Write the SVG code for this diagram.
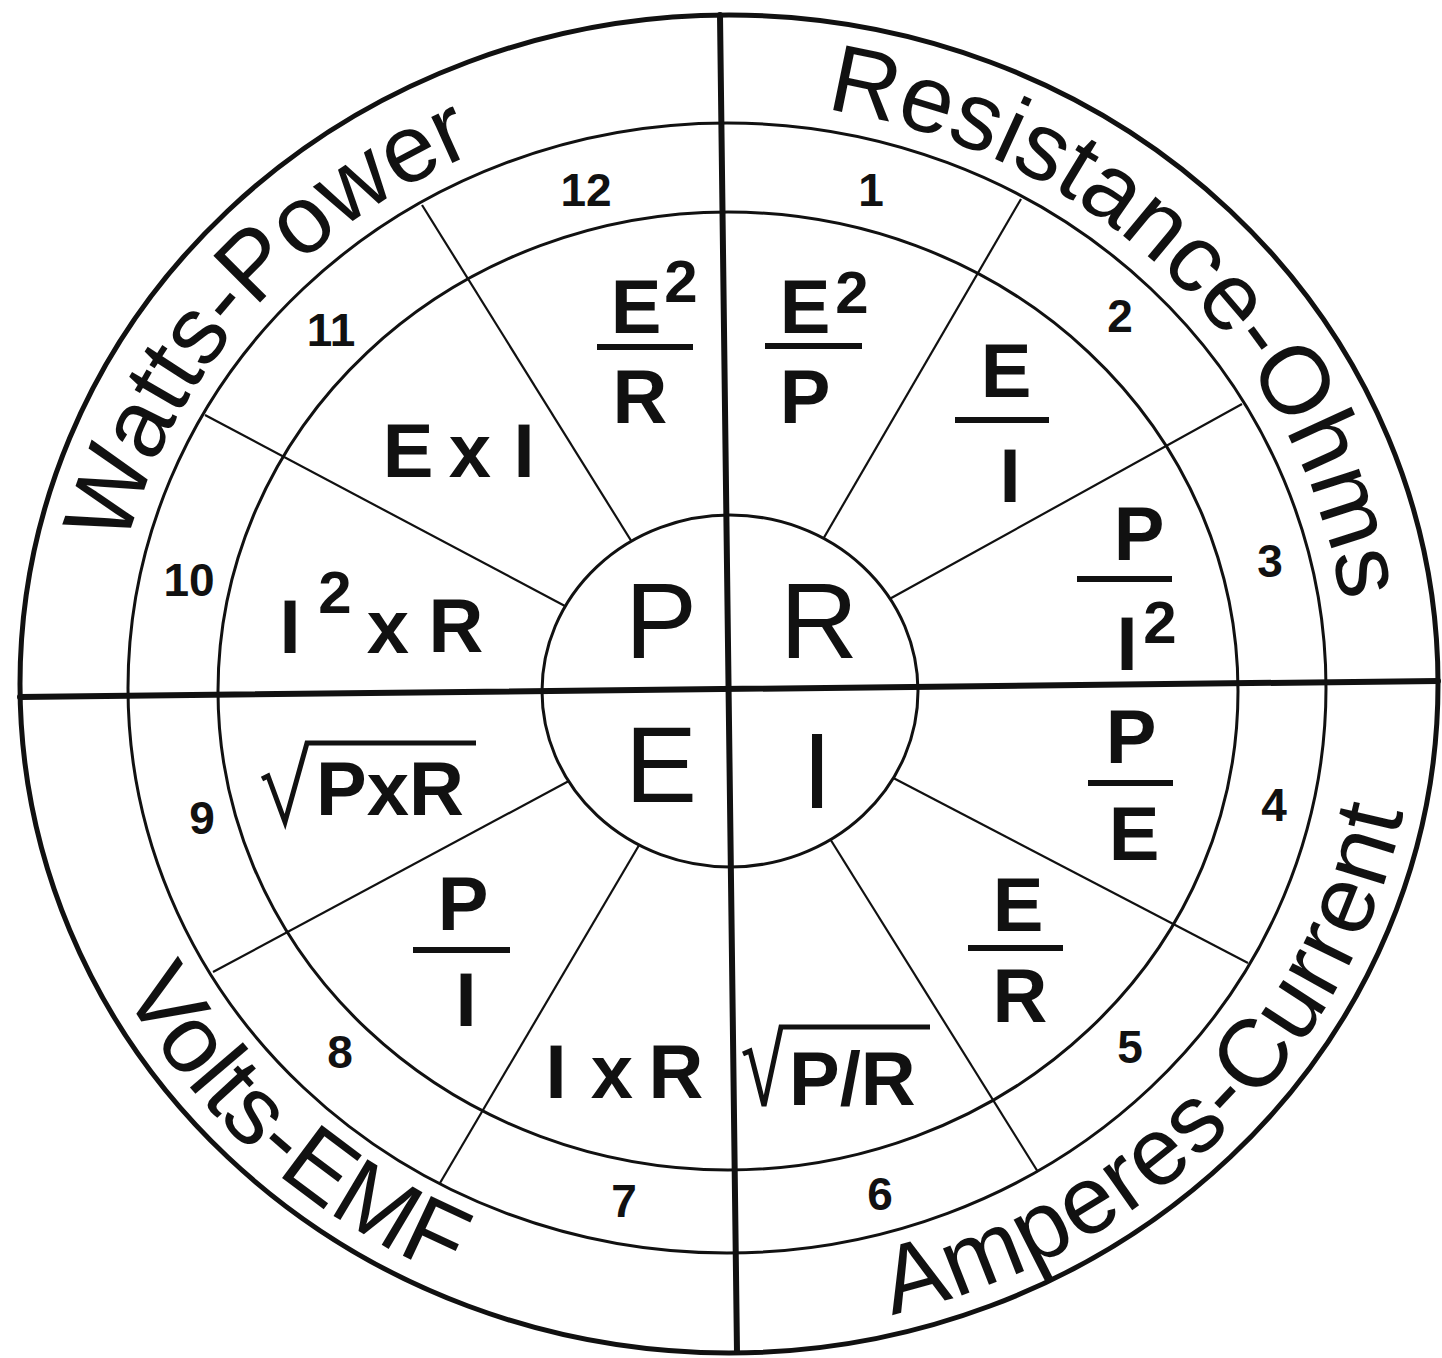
<svg xmlns="http://www.w3.org/2000/svg" width="1442" height="1358" viewBox="0 0 1442 1358">
<style>
 .ring{fill:none;stroke:#111;stroke-width:3}
 .outer{fill:none;stroke:#111;stroke-width:5}
 .hub{fill:#fff;stroke:#111;stroke-width:3}
 .axis{stroke:#111;stroke-width:6;stroke-linecap:round}
 .ray{stroke:#111;stroke-width:2.2}
 .bar{stroke:#111;stroke-width:6}
 .rad{fill:none;stroke:#111;stroke-width:5;stroke-linejoin:miter}
 text{font-family:"Liberation Sans",Arial,sans-serif;fill:#111}
 .f{font-size:76px;font-weight:bold;text-anchor:middle}
 .fs{font-size:76px;font-weight:bold}
 .sup{font-size:60px;font-weight:bold;text-anchor:middle}
 .n{font-size:46px;font-weight:bold;text-anchor:middle}
 .c{font-size:108px;text-anchor:middle}
 .lbl{font-size:96px;text-anchor:middle}
</style>
<defs>
 <path id="pRes" d="M 578.0 119.4 A 620 585 0 0 1 1324.0 848.2"/>
 <path id="pWat" d="M 149.2 896.7 A 620 585 0 0 1 825.0 109.2"/>
 <path id="pVol" d="M 61.4 527.0 A 688 649 0 0 0 918.6 1307.9"/>
 <path id="pAmp" d="M 574.2 1316.4 A 688 649 0 0 0 1386.9 494.2"/>
</defs>
<rect width="1442" height="1358" fill="#fff"/>

<g id="connectors">
 <ellipse class="outer" cx="729" cy="684" rx="709" ry="669"/>
 <ellipse class="ring" cx="727" cy="688" rx="599" ry="565"/>
 <ellipse class="ring" cx="728" cy="691" rx="510" ry="479"/>
 <line class="ray" x1="640" y1="555" x2="422" y2="205"/>
 <line class="ray" x1="580" y1="614" x2="205" y2="415"/>
 <line class="ray" x1="815" y1="553" x2="1021" y2="199"/>
 <line class="ray" x1="875" y1="607" x2="1242" y2="404"/>
 <line class="ray" x1="580" y1="775" x2="213" y2="972"/>
 <line class="ray" x1="648" y1="830" x2="440" y2="1183"/>
 <line class="ray" x1="822" y1="826" x2="1038" y2="1172"/>
 <line class="ray" x1="878" y1="770" x2="1248" y2="963"/>
 <ellipse class="hub" cx="730" cy="691" rx="188" ry="176"/>
 <line class="axis" x1="20" y1="697" x2="1438" y2="681"/>
 <line class="axis" x1="720" y1="15" x2="737" y2="1352"/>
</g>

<g id="quadrant-labels">
 <text class="lbl"><textPath href="#pRes" startOffset="50%">Resistance-Ohms</textPath></text>
 <text class="lbl"><textPath href="#pWat" startOffset="50%">Watts-Power</textPath></text>
 <text class="lbl"><textPath href="#pVol" startOffset="50%">Volts-EMF</textPath></text>
 <text class="lbl" letter-spacing="1.5"><textPath href="#pAmp" startOffset="50%">Amperes-Current</textPath></text>
</g>

<g id="hub-letters">
 <text class="c" x="661" y="658">P</text>
 <text class="c" x="819" y="658">R</text>
 <text class="c" x="661" y="802">E</text>
 <text class="c" x="817" y="808">I</text>
</g>

<g id="numbers">
 <text class="n" x="871" y="206">1</text>
 <text class="n" x="1120" y="332">2</text>
 <text class="n" x="1270" y="577">3</text>
 <text class="n" x="1274" y="821">4</text>
 <text class="n" x="1130" y="1063">5</text>
 <text class="n" x="880" y="1210">6</text>
 <text class="n" x="624" y="1217">7</text>
 <text class="n" x="340" y="1068">8</text>
 <text class="n" x="202" y="834">9</text>
 <text class="n" x="189" y="596">10</text>
 <text class="n" x="331" y="346">11</text>
 <text class="n" x="586" y="206">12</text>
</g>

<g id="sector-1">
 <text class="f" x="805" y="333">E</text>
 <text class="sup" x="852" y="313">2</text>
 <line class="bar" x1="765" y1="346" x2="862" y2="346"/>
 <text class="f" x="805" y="423">P</text>
</g>
<g id="sector-2">
 <text class="f" x="1006" y="397">E</text>
 <line class="bar" x1="955" y1="420" x2="1049" y2="420"/>
 <text class="f" x="1010" y="502">I</text>
</g>
<g id="sector-3">
 <text class="f" x="1139" y="560">P</text>
 <line class="bar" x1="1077" y1="579" x2="1172" y2="579"/>
 <text class="f" x="1127" y="670">I</text>
 <text class="sup" x="1160" y="643">2</text>
</g>
<g id="sector-4">
 <text class="f" x="1131" y="763">P</text>
 <line class="bar" x1="1088" y1="783" x2="1173" y2="783"/>
 <text class="f" x="1134" y="860">E</text>
</g>
<g id="sector-5">
 <text class="f" x="1018" y="931">E</text>
 <line class="bar" x1="968" y1="948" x2="1063" y2="948"/>
 <text class="f" x="1020" y="1022">R</text>
</g>
<g id="sector-6">
 <path class="rad" d="M 743 1054 L 750 1051 L 764 1106 L 781 1027 L 930 1027"/>
 <text class="fs" x="789" y="1105">P/R</text>
</g>
<g id="sector-7">
 <text class="f" x="556" y="1098">I</text>
 <text class="f" x="612" y="1098">x</text>
 <text class="f" x="676" y="1098">R</text>
</g>
<g id="sector-8">
 <text class="f" x="463" y="930">P</text>
 <line class="bar" x1="413" y1="950" x2="510" y2="950"/>
 <text class="f" x="466" y="1026">I</text>
</g>
<g id="sector-9">
 <path class="rad" d="M 262 779 L 268 776 L 285 822 L 307 743 L 476 743"/>
 <text class="fs" x="316" y="815">PxR</text>
</g>
<g id="sector-10">
 <text class="f" x="290" y="653">I</text>
 <text class="sup" x="335" y="613">2</text>
 <text class="f" x="388" y="653">x</text>
 <text class="f" x="456" y="652">R</text>
</g>
<g id="sector-11">
 <text class="f" x="408" y="477">E</text>
 <text class="f" x="470" y="477">x</text>
 <text class="f" x="524" y="477">I</text>
</g>
<g id="sector-12">
 <text class="f" x="636" y="333">E</text>
 <text class="sup" x="681" y="302">2</text>
 <line class="bar" x1="597" y1="347" x2="693" y2="347"/>
 <text class="f" x="640" y="423">R</text>
</g>
</svg>
